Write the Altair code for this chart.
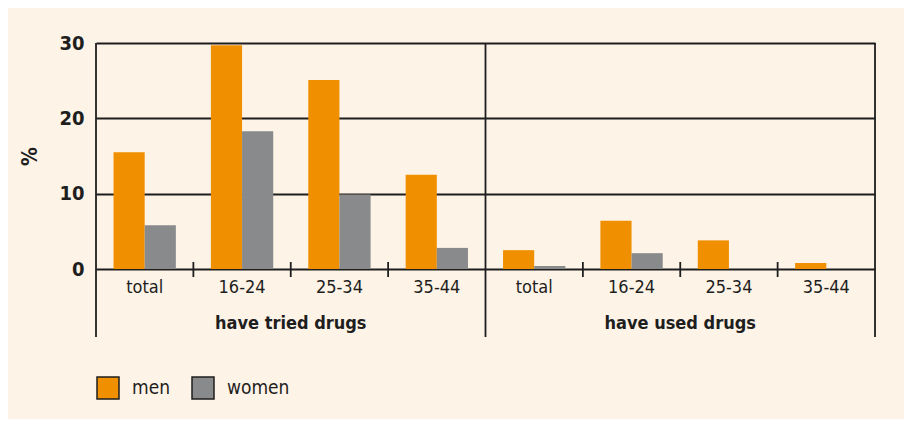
import altair as alt
import pandas as pd

categories = ["total", "16-24", "25-34", "35-44"]
groups = ["have tried drugs", "have used drugs"]
group_ids = ["tried", "used"]
genders = ["men", "women"]
men_tried = [15.5, 29.7, 25.1, 12.5]
women_tried = [5.8, 18.3, 9.9, 2.8]
men_used = [2.5, 6.4, 3.8, 0.8]
women_used = [0.4, 2.1, 0.0, 0.0]
y_ticks = [0, 10, 20, 30]

FONT = "Liberation Sans Narrow, DejaVu Sans Condensed, sans-serif"
INK = "#1e1e1e"
BG = "#fdf3e6"

keys = [f"{g}|{c}" for g in group_ids for c in categories]

rows = []
series = {("tried", "men"): men_tried, ("tried", "women"): women_tried,
          ("used", "men"): men_used, ("used", "women"): women_used}
for (g, sex), vals in series.items():
    for c, v in zip(categories, vals):
        rows.append({"key": f"{g}|{c}", "gender": sex, "value": v})
df = pd.DataFrame(rows)

labels_df = pd.DataFrame({"key": keys, "label": [c for g in group_ids for c in categories]})
left_df = pd.DataFrame({"key": [f"{g}|{categories[0]}" for g in group_ids]})
right_df = pd.DataFrame({"key": [f"{group_ids[-1]}|{categories[-1]}"]})
ticks_df = pd.DataFrame({"key": [f"{g}|{c}" for g in group_ids for c in categories[1:]]})
group_df = pd.DataFrame({"key": [f"{g}|{categories[2]}" for g in group_ids], "label": groups})

xscale = alt.Scale(domain=keys, paddingInner=0, paddingOuter=0)

bars = alt.Chart(df).mark_bar().encode(
    x=alt.X("key:N", scale=xscale, axis=None, sort=keys),
    xOffset=alt.XOffset("gender:N", sort=genders,
                        scale=alt.Scale(paddingInner=0, paddingOuter=0.5625)),
    y=alt.Y("value:Q", scale=alt.Scale(domain=[0, 30], nice=False),
            axis=alt.Axis(values=y_ticks, title="%", grid=True, gridColor=INK, gridWidth=1.8,
                          gridOpacity=1, ticks=False, domain=False, labelPadding=12,
                          labelFont=FONT, labelFontSize=20, labelFontWeight="bold", labelColor=INK,
                          titleFont=FONT, titleFontSize=21, titleFontWeight="bold", titleColor=INK,
                          titleX=-66, titleY=113, titleAngle=270, titleAlign="center",
                          titleBaseline="middle")),
    color=alt.Color("gender:N", sort=genders,
                    scale=alt.Scale(domain=genders, range=["#f08f00", "#898a8b"]),
                    legend=alt.Legend(orient="none", legendX=0, legendY=333, direction="horizontal",
                                      title=None, symbolType="square", symbolSize=484,
                                      symbolStrokeColor=INK, symbolStrokeWidth=1.5, symbolOpacity=1,
                                      labelFont=FONT, labelFontSize=19, labelColor=INK,
                                      labelOffset=12, columnPadding=18, padding=0)),
)

left_rules = alt.Chart(left_df).mark_rule(color=INK, strokeWidth=1.8).encode(
    x=alt.X("key:N", scale=xscale, bandPosition=0, sort=keys),
    y=alt.value(0), y2=alt.value(294),
)
right_rule = alt.Chart(right_df).mark_rule(color=INK, strokeWidth=1.8).encode(
    x=alt.X("key:N", scale=xscale, bandPosition=1, sort=keys),
    y=alt.value(0), y2=alt.value(294),
)
tick_rules = alt.Chart(ticks_df).mark_rule(color=INK, strokeWidth=1.8).encode(
    x=alt.X("key:N", scale=xscale, bandPosition=0, sort=keys),
    y=alt.value(219), y2=alt.value(234),
)
cat_text = alt.Chart(labels_df).mark_text(font=FONT, fontSize=18, color=INK, baseline="middle").encode(
    x=alt.X("key:N", scale=xscale, sort=keys),
    y=alt.value(245),
    text="label:N",
)
group_text = alt.Chart(group_df).mark_text(font=FONT, fontSize=18, fontWeight="bold", color=INK,
                                           baseline="alphabetic").encode(
    x=alt.X("key:N", scale=xscale, bandPosition=0, sort=keys),
    y=alt.value(286),
    text="label:N",
)

chart = alt.layer(bars, left_rules, right_rule, tick_rules, cat_text, group_text).properties(
    width=779, height=226,
    autosize=alt.AutoSizeParams(type="none"),
    padding={"left": 88, "top": 35, "right": 29, "bottom": 150},
    background=BG,
).configure_view(stroke=None)

chart.save("out.html", embed_options={"renderer": "svg", "actions": False})
